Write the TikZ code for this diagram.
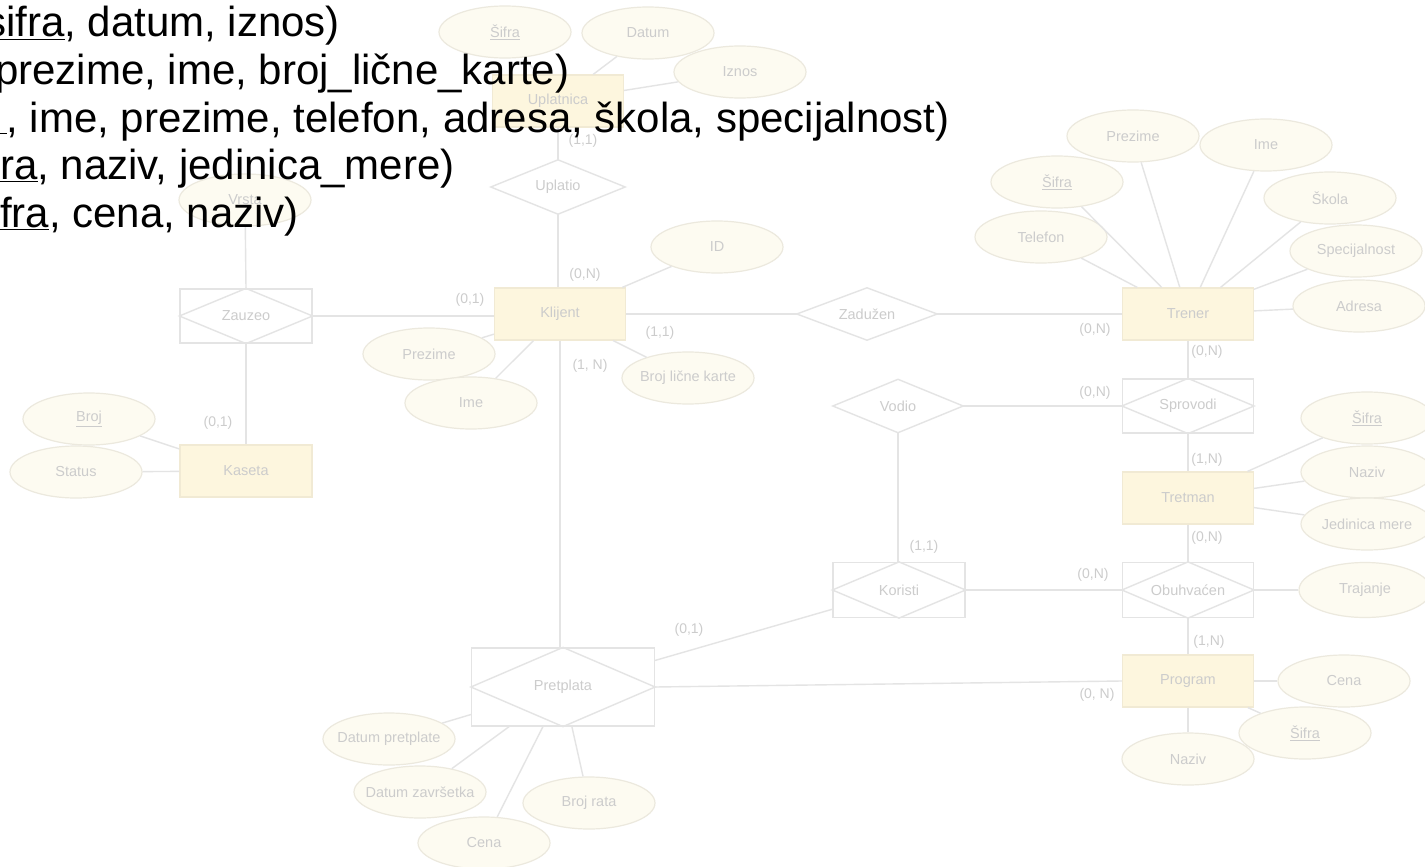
\documentclass[tikz,border=0pt]{standalone}
\usepackage{fontspec}
\setmainfont{Liberation Sans}
\usetikzlibrary{shapes.geometric}
\definecolor{ln}{RGB}{228,228,228}
\definecolor{entfill}{RGB}{253,246,222}
\definecolor{entdraw}{RGB}{241,234,212}
\definecolor{elfill}{RGB}{253,251,241}
\definecolor{eldraw}{RGB}{236,233,222}
\definecolor{lbl}{RGB}{204,204,204}
\newcommand{\zb}[1]{\makebox[0pt][c]{#1}}
\begin{document}
\begin{tikzpicture}[x=1pt,y=-1pt,
  dfont/.style={font=\fontsize{14.5}{17}\selectfont},
  ent/.style={rectangle, draw=entdraw, fill=entfill, line width=1.2pt, minimum width=131pt, minimum height=52pt, inner sep=0pt, text=lbl, dfont},
  attr/.style={ellipse, draw=eldraw, fill=elfill, line width=1.2pt, minimum width=132pt, minimum height=52pt, inner sep=0pt, text=lbl, dfont},
  relbox/.style={rectangle, minimum width=131pt, minimum height=54pt, inner sep=0pt, text=lbl, dfont},
  weak/.style={relbox, draw=ln, line width=1.2pt},
  conn/.style={draw=ln, line width=1.4pt},
  card/.style={text=lbl, font=\fontsize{14}{16}\selectfont, inner sep=0pt},
  big/.style={anchor=base west, inner sep=0pt, text=black, font=\fontsize{42}{47}\selectfont}
]
\clip (0,0) rectangle (1425,867);
\fill[white] (0,0) rectangle (1425,867);

% ---------- nodes ----------
\node[ent] (upl) at (558,101) {Uplatnica};
\node[attr] (usif) at (505,32) {\underline{Šifra}};
\node[attr] (udat) at (648,33) {Datum};
\node[attr] (uizn) at (740,72) {Iznos};
\node[relbox, minimum width=134pt] (uplatio) at (558,187) {Uplatio};

\node[ent] (kl) at (560,314) {Klijent};
\node[attr] (kid) at (717,247) {ID};
\node[attr] (kblk) at (688,378) {\zb{Broj lične karte}};
\node[attr] (kprez) at (429,354) {Prezime};
\node[attr] (kime) at (471,403) {Ime};
\node[relbox, minimum width=140pt, minimum height=52pt] (zad) at (867,314) {Zadužen};

\node[weak, minimum width=132pt] (zau) at (246,316) {};
\node[attr] (vrsta) at (245,200) {Vrsta};
\node[ent, minimum width=132pt] (kas) at (246,471) {Kaseta};
\node[attr] (kbroj) at (89,419) {\underline{Broj}};
\node[attr] (kstat) at (76,472) {Status};

\node[ent] (tr) at (1188,314) {Trener};
\node[attr] (tprez) at (1133,136) {Prezime};
\node[attr] (time) at (1266,145) {Ime};
\node[attr] (tsif) at (1057,182) {\underline{Šifra}};
\node[attr] (ttel) at (1041,237) {Telefon};
\node[attr] (tsko) at (1330,198) {Škola};
\node[attr] (tspec) at (1356,251) {\zb{Specijalnost}};
\node[attr] (tadr) at (1359,306) {Adresa};

\node[weak] (spr) at (1188,406) {};
\node[relbox, minimum width=130pt, minimum height=53pt] (vod) at (898,406) {Vodio};
\node[ent] (tre) at (1188,498) {Tretman};
\node[attr] (tresif) at (1367,418) {\underline{Šifra}};
\node[attr] (trenaz) at (1367,472) {Naziv};
\node[attr] (trejed) at (1367,524) {\zb{Jedinica mere}};

\node[weak, minimum height=55pt] (obu) at (1188,590) {};
\node[attr, minimum height=55pt] (traj) at (1365,590) {Trajanje};
\node[weak, minimum width=132pt, minimum height=55pt] (kor) at (899,590) {};

\node[ent] (prog) at (1188,681) {Program};
\node[attr] (pcena) at (1344,681) {Cena};
\node[attr] (psif) at (1305,733) {\underline{Šifra}};
\node[attr] (pnaz) at (1188,759) {Naziv};

\node[weak, minimum width=183pt, minimum height=78pt] (pre) at (563,687) {};
\node[attr] (pdp) at (389,739) {\zb{Datum pretplate}};
\node[attr] (pdz) at (420,792) {\zb{Datum završetka}};
\node[attr] (pce) at (484,843) {Cena};
\node[attr] (pbr) at (589,803) {Broj rata};

% ---------- diamonds ----------
\foreach \n in {uplatio,zad,vod,zau,spr,obu,kor,pre}
  \draw[conn] (\n.west) -- (\n.north) -- (\n.east) -- (\n.south) -- cycle;
\node[text=lbl, dfont] at (zau) {Zauzeo};
\node[text=lbl, dfont] at (spr) {Sprovodi};
\node[text=lbl, dfont] at (obu) {Obuhvaćen};
\node[text=lbl, dfont] at (kor) {Koristi};
\node[text=lbl, dfont] at (pre) {Pretplata};

% ---------- connectors ----------
\draw[conn] (usif) -- (upl);
\draw[conn] (udat) -- (upl);
\draw[conn] (uizn) -- (upl);
\draw[conn] (upl.south) -- (uplatio.north);
\draw[conn] (uplatio.south) -- (kl.north -| uplatio.south);
\draw[conn] (kl) -- (kid);
\draw[conn] (kl) -- (kblk);
\draw[conn] (kl) -- (kprez);
\draw[conn] (kl) -- (kime);
\draw[conn] (kl.east) -- (zad.west);
\draw[conn] (zad.east) -- (tr.west);
\draw[conn] (zau.east) -- (zau.east -| kl.west);
\draw[conn] (vrsta) -- (zau.north);
\draw[conn] (zau.south) -- (kas.north);
\draw[conn] (kbroj) -- (kas);
\draw[conn] (kstat) -- (kas);
\draw[conn] (tr) -- (tprez);
\draw[conn] (tr) -- (time);
\draw[conn] (tr) -- (tsif);
\draw[conn] (tr) -- (ttel);
\draw[conn] (tr) -- (tsko);
\draw[conn] (tr) -- (tspec);
\draw[conn] (tr) -- (tadr);
\draw[conn] (tr.south) -- (spr.north);
\draw[conn] (vod.east) -- (spr.west);
\draw[conn] (vod.south) -- (kor.north -| vod.south);
\draw[conn] (spr.south) -- (tre.north);
\draw[conn] (tre) -- (tresif);
\draw[conn] (tre) -- (trenaz);
\draw[conn] (tre) -- (trejed);
\draw[conn] (tre.south) -- (obu.north);
\draw[conn] (obu.east) -- (traj);
\draw[conn] (kor.east) -- (obu.west);
\draw[conn] (obu.south) -- (prog.north);
\draw[conn] (prog) -- (pcena);
\draw[conn] (prog) -- (psif);
\draw[conn] (prog.south) -- (pnaz.north);
\draw[conn] (kl.south) -- (kl.south |- pre.north);
\draw[conn] (pre) -- (kor);
\draw[conn] (pre.east) -- (prog.west);
\draw[conn] (pre) -- (pdp);
\draw[conn] (pre) -- (pdz);
\draw[conn] (pre) -- (pce);
\draw[conn] (pre) -- (pbr);

% ---------- cardinalities ----------
\node[card] (c1) at (583,141) {(1,1)};
\node[card] (c2) at (585,275) {(0,N)};
\node[card] (c3) at (660,333) {(1,1)};
\node[card] (c4) at (590,366) {(1, N)};
\node[card] (c5) at (470,300) {(0,1)};
\node[card] (c6) at (218,423) {(0,1)};
\node[card] (c7) at (1095,330) {(0,N)};
\node[card] (c8) at (1207,352) {(0,N)};
\node[card] (c9) at (1095,393) {(0,N)};
\node[card] (c10) at (1207,460) {(1,N)};
\node[card] (c11) at (1207,538) {(0,N)};
\node[card] (c12) at (924,547) {(1,1)};
\node[card] (c13) at (1093,575) {(0,N)};
\node[card] (c14) at (1209,642) {(1,N)};
\node[card] (c15) at (1097,695) {(0, N)};
\node[card] (c16) at (689,630) {(0,1)};

% ---------- overlay text ----------
\node[big] (t1) at (-15,37) {\underline{sifra}, datum, iznos)};
\node[big] (t2) at (-5,84.5) {prezime, ime, broj\_lične\_karte)};
\node[big] (t3) at (-17,132) {\underline{\hphantom{a}}, ime, prezime, telefon, adresa, škola, specijalnost)};
\node[big] (t4) at (0,179.5) {\underline{ra}, naziv, jedinica\_mere)};
\node[big] (t5) at (0,227) {\underline{fra}, cena, naziv)};
\end{tikzpicture}
\end{document}
